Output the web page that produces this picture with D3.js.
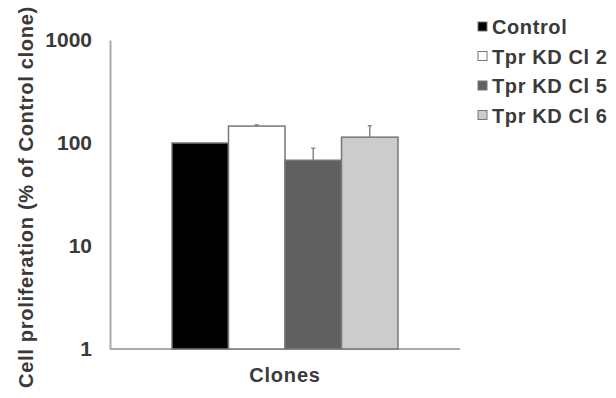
<!DOCTYPE html>
<html>
<head>
<meta charset="utf-8">
<script src="https://cdn.jsdelivr.net/npm/d3@7"></script>
<style>
  body { margin: 0; background: #fff; }
  text { font-family: "Liberation Sans", Arial, sans-serif; font-weight: bold; fill: #3a3a3a; }
</style>
</head>
<body>
<svg id="chart" width="616" height="398"></svg>
<script>
var series = ["Control", "Tpr KD Cl 2", "Tpr KD Cl 5", "Tpr KD Cl 6"];
var values = [100, 146, 68, 114];
var errors = [0, 4, 21, 33];
var colors = ["#000000", "#ffffff", "#606060", "#cccccc"];
var yTicks = [1, 10, 100, 1000];

var svg = d3.select("#chart");

var x = d3.scaleBand().domain(series).range([172, 398]).paddingInner(0);
var y = d3.scaleLog().domain([1, 1000]).range([349, 40]);

// axes
var yAxis = svg.append("g").attr("transform", "translate(110,0)")
  .call(d3.axisLeft(y).tickValues(yTicks).tickFormat(d3.format("d")).tickSize(0).tickPadding(18));
yAxis.select(".domain").attr("stroke", "#aaaaaa").attr("stroke-width", 2);
yAxis.selectAll("text")
  .style("font-size", "21px")
  .style("font-family", "'Liberation Sans', Arial, sans-serif")
  .style("font-weight", "bold")
  .attr("fill", "#3a3a3a");

svg.append("line")
  .attr("x1", 110).attr("x2", 460)
  .attr("y1", y(1)).attr("y2", y(1))
  .attr("stroke", "#aaaaaa").attr("stroke-width", 2);

// error bars (upper only)
var err = svg.append("g");
series.forEach(function(s, i) {
  if (!errors[i]) return;
  var cx = x(s) + x.bandwidth() / 2;
  err.append("line")
    .attr("x1", cx).attr("x2", cx)
    .attr("y1", y(values[i])).attr("y2", y(values[i] + errors[i]))
    .attr("stroke", "#888").attr("stroke-width", 1.5);
  err.append("line")
    .attr("x1", cx - 2).attr("x2", cx + 2)
    .attr("y1", y(values[i] + errors[i])).attr("y2", y(values[i] + errors[i]))
    .attr("stroke", "#888").attr("stroke-width", 1.5);
});

// bars
svg.append("g").selectAll("rect")
  .data(series)
  .enter().append("rect")
  .attr("x", function(d) { return x(d); })
  .attr("y", function(d, i) { return y(values[i]); })
  .attr("width", x.bandwidth())
  .attr("height", function(d, i) { return y(1) - y(values[i]); })
  .attr("fill", function(d, i) { return colors[i]; })
  .attr("stroke", "#777")
  .attr("stroke-width", 1.5);

// axis titles
svg.append("text")
  .attr("x", 285).attr("y", 382)
  .attr("text-anchor", "middle")
  .style("font-size", "20px")
  .style("letter-spacing", "0.8px")
  .text("Clones");

svg.append("text")
  .attr("transform", "translate(33,197) rotate(-90)")
  .attr("text-anchor", "middle")
  .style("font-size", "20px")
  .style("letter-spacing", "0.7px")
  .text("Cell proliferation (% of Control clone)");

// legend
var legend = svg.append("g");
series.forEach(function(s, i) {
  var ly = 27 + i * 29.5;
  legend.append("rect")
    .attr("x", 478).attr("y", ly - 5)
    .attr("width", 9).attr("height", 9)
    .attr("fill", colors[i])
    .attr("stroke", "#777").attr("stroke-width", 1);
  legend.append("text")
    .attr("x", 492).attr("y", ly + 7)
    .style("font-size", "20px")
    .style("letter-spacing", "0.6px")
    .text(s);
});
</script>
</body>
</html>
